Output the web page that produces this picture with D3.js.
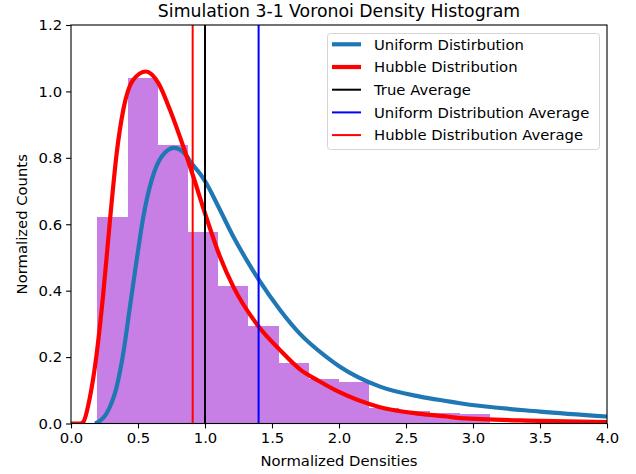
<!DOCTYPE html>
<html>
<head>
<meta charset="utf-8">
<script src="https://cdn.jsdelivr.net/npm/d3@7"></script>
<style>
    body { margin: 0; background: #fff; }
    text { font-family: "DejaVu Sans", sans-serif; fill: #000; }
</style>
</head>
<body>
<div id="chart"></div>
<script>
// histogram bins (left edges + last right edge) and normalized counts
var binEdges = [0.197, 0.422, 0.648, 0.873, 1.099, 1.324, 1.549, 1.775, 2.000, 2.226, 2.451, 2.676, 2.902, 3.127];
var binCounts = [0.621, 1.041, 0.840, 0.576, 0.413, 0.293, 0.182, 0.133, 0.124, 0.046, 0.039, 0.033, 0.029];

// curves
var uniformX = [0.18, 0.266, 0.341, 0.39, 0.44, 0.49, 0.54, 0.602, 0.677, 0.769, 0.863, 0.888, 0.963, 1.0, 1.112, 1.211, 1.311, 1.4, 1.56, 1.709, 1.908, 2.007, 2.306, 2.604, 2.828, 2.903, 3.5, 4.0];
var uniformY = [0, 0.031, 0.111, 0.211, 0.352, 0.492, 0.623, 0.733, 0.804, 0.830, 0.806, 0.790, 0.752, 0.730, 0.643, 0.563, 0.492, 0.434, 0.342, 0.270, 0.200, 0.171, 0.111, 0.081, 0.066, 0.061, 0.036, 0.021];

var hubbleX = [0, 0.07, 0.092, 0.142, 0.192, 0.241, 0.291, 0.341, 0.39, 0.465, 0.56, 0.652, 0.739, 0.838, 0.913, 1.0, 1.112, 1.211, 1.4, 1.56, 1.709, 1.85, 2.0, 2.306, 2.604, 2.828, 2.903, 3.5, 4.0];
var hubbleY = [0, 0, 0.005, 0.081, 0.211, 0.392, 0.613, 0.814, 0.944, 1.035, 1.060, 1.025, 0.944, 0.834, 0.743, 0.633, 0.502, 0.412, 0.292, 0.221, 0.163, 0.128, 0.095, 0.049, 0.029, 0.020, 0.016, 0.008, 0.004];

var trueAverage = 1.0,
    uniformAverage = 1.40,
    hubbleAverage = 0.908;

var xTicks = [0, 0.5, 1, 1.5, 2, 2.5, 3, 3.5, 4];
var yTicks = [0, 0.2, 0.4, 0.6, 0.8, 1.0, 1.2];

var legendItems = [
    {label: "Uniform Distirbution", color: "#1f77b4", width: 4.2},
    {label: "Hubble Distribution", color: "#ff0000", width: 4.2},
    {label: "True Average", color: "#000000", width: 2},
    {label: "Uniform Distribution Average", color: "#0000ff", width: 2},
    {label: "Hubble Distribution Average", color: "#ff0000", width: 2}
];

(function () {
    var width = 636,
        height = 474;
    var left = 71, right = 607, top = 25, bottom = 423.5;

    var svg = d3.select("#chart")
        .append("svg")
        .attr("width", width)
        .attr("height", height);

    var x = d3.scaleLinear().domain([0, 4]).range([left, right]);
    var y = d3.scaleLinear().domain([0, 1.2]).range([bottom, top]);

    svg.append("clipPath")
        .attr("id", "plotclip")
        .append("rect")
        .attr("x", left)
        .attr("y", top)
        .attr("width", right - left)
        .attr("height", bottom - top);

    var plot = svg.append("g").attr("clip-path", "url(#plotclip)");

    // histogram
    plot.selectAll(".bar")
        .data(binCounts)
        .enter().append("rect")
        .attr("class", "bar")
        .attr("x", function (d, i) { return x(binEdges[i]); })
        .attr("width", function (d, i) { return x(binEdges[i + 1]) - x(binEdges[i]); })
        .attr("y", function (d) { return y(d); })
        .attr("height", function (d) { return y(0) - y(d); })
        .attr("fill", "#c77fe5")
        .attr("shape-rendering", "crispEdges");

    var line = d3.line()
        .x(function (d) { return x(d[0]); })
        .y(function (d) { return y(d[1]); })
        .curve(d3.curveMonotoneX);

    plot.append("path")
        .datum(d3.zip(uniformX, uniformY))
        .attr("d", line)
        .attr("fill", "none")
        .attr("stroke", "#1f77b4")
        .attr("stroke-width", 4.2);

    plot.append("path")
        .datum(d3.zip(hubbleX, hubbleY))
        .attr("d", line)
        .attr("fill", "none")
        .attr("stroke", "#ff0000")
        .attr("stroke-width", 4.2);

    // averages
    var averages = [
        {v: trueAverage, c: "#000000"},
        {v: uniformAverage, c: "#0000ff"},
        {v: hubbleAverage, c: "#ff0000"}
    ];
    plot.selectAll(".avg")
        .data(averages)
        .enter().append("line")
        .attr("class", "avg")
        .attr("x1", function (d) { return x(d.v); })
        .attr("x2", function (d) { return x(d.v); })
        .attr("y1", top)
        .attr("y2", bottom)
        .attr("stroke", function (d) { return d.c; })
        .attr("stroke-width", 2);

    // axes
    var xAxis = svg.append("g")
        .attr("transform", "translate(0," + bottom + ")")
        .call(d3.axisBottom(x).tickValues(xTicks).tickFormat(d3.format(".1f")).tickSize(4.9).tickPadding(4));
    var yAxis = svg.append("g")
        .attr("transform", "translate(" + left + ",0)")
        .call(d3.axisLeft(y).tickValues(yTicks).tickFormat(d3.format(".1f")).tickSize(4.9).tickPadding(4));

    [xAxis, yAxis].forEach(function (a) {
        a.select(".domain").remove();
        a.selectAll("line").attr("stroke", "#000").attr("stroke-width", 1.1);
        a.selectAll("text")
            .attr("font-family", "DejaVu Sans")
            .attr("font-size", "14.8px")
            .attr("fill", "#222");
    });

    svg.append("rect")
        .attr("x", left)
        .attr("y", top)
        .attr("width", right - left)
        .attr("height", bottom - top)
        .attr("fill", "none")
        .attr("stroke", "#000")
        .attr("stroke-width", 1.1);

    // labels
    svg.append("text")
        .attr("x", (left + right) / 2)
        .attr("y", 17)
        .attr("text-anchor", "middle")
        .attr("font-size", "17.3px")
        .text("Simulation 3-1 Voronoi Density Histogram");

    svg.append("text")
        .attr("x", (left + right) / 2)
        .attr("y", 466)
        .attr("text-anchor", "middle")
        .attr("font-size", "14.8px")
        .text("Normalized Densities");

    svg.append("text")
        .attr("transform", "translate(27," + ((top + bottom) / 2) + ") rotate(-90)")
        .attr("text-anchor", "middle")
        .attr("font-size", "14.8px")
        .text("Normalized Counts");

    // legend
    var legend = svg.append("g");
    legend.append("rect")
        .attr("x", 327.5)
        .attr("y", 33.5)
        .attr("width", 272)
        .attr("height", 116)
        .attr("rx", 3)
        .attr("fill", "#fff")
        .attr("fill-opacity", 0.8)
        .attr("stroke", "#d5d5d5")
        .attr("stroke-width", 1);

    var rows = legend.selectAll(".item")
        .data(legendItems)
        .enter().append("g")
        .attr("class", "item")
        .attr("transform", function (d, i) { return "translate(0," + (44.3 + i * 22.7) + ")"; });

    rows.append("line")
        .attr("x1", 332)
        .attr("x2", 361)
        .attr("stroke", function (d) { return d.color; })
        .attr("stroke-width", function (d) { return d.width; });

    rows.append("text")
        .attr("x", 374)
        .attr("y", 5.3)
        .attr("font-size", "14.8px")
        .text(function (d) { return d.label; });
})();
</script>
</body>
</html>
